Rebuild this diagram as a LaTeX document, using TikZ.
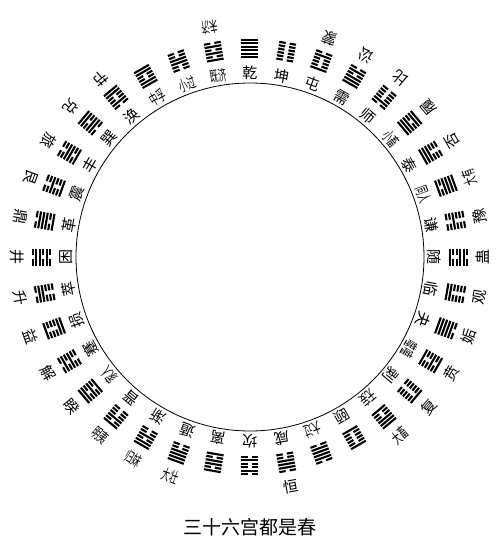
\documentclass[tikz,border=0pt]{standalone}
\usepackage{fontspec}
\usepackage{graphicx}
\usepackage{xstring}
\newfontfamily\cjk{Noto Sans CJK SC}

\newcommand{\pair}[1]{\scalebox{0.55}[1]{#1}}

\tikzset{
  guaname/.style={font=\cjk\fontsize{15}{15}\selectfont, inner sep=0pt, transform shape},
  yao/.style={line width=2.1pt},
  title/.style={font=\cjk\fontsize{19}{19}\selectfont, inner sep=0pt},
}

\begin{document}
\begin{tikzpicture}[x=1pt, y=1pt]
    \useasboundingbox[fill=white] (-250,-295) rectangle (250,257);
    \node[draw, circle, minimum size=348pt, inner sep=0pt, line width=0.8pt] (ring) at (0,0) {};
    % 36 palaces: angle / inner name / outer name / lines from the ring outward
    \foreach \a/\inn/\outn/\code [count=\k] in {
        90/乾//111111, 80/坤//000000, 70/屯/蒙/100010, 60/需/讼/111010,
        50/师/比/010000, 40/\pair{小畜}/履/111011, 30/泰/否/111000,
        20/\pair{同人}/\pair{大有}/101111, 10/谦/豫/001000, 0/随/蛊/100110,
        -10/临/观/110000, -20/夬/姤/111110, -30/\pair{噬嗑}/贲/100101,
        -40/剥/复/000001, -50/\pair{无妄}/\pair{大畜}/100111, -60/颐//100001,
        -70/\pair{大过}//011110, -80/咸/恒/001110, -90/坎//010010,
        -100/离//101101, -110/遁/\pair{大壮}/001111, -120/渐/\pair{归妹}/001011,
        -130/晋/\pair{明夷}/000101, -140/\pair{家人}/睽/101011, -150/蹇/解/001010,
        -160/损/益/110001, -170/萃/升/000110, -180/困/井/010110,
        170/革/鼎/101110, 160/震/艮/100100, 150/丰/旅/101100,
        140/巽/兑/011011, 130/涣/节/010011, 120/\pair{中孚}//110011,
        110/\pair{小过}//001100, 100/\pair{既济}/\pair{未济}/101010}{
        \begin{scope}[rotate=\a-90]
            \node[guaname] (in\k) at (0,184) {\inn};
            \node[guaname, rotate=180] (out\k) at (0,233) {\outn};
            \coordinate (gua\k) at (0,208.5);
            \foreach \i in {1,...,6}{
                \StrChar{\code}{\i}[\bit]
                \pgfmathsetmacro\yy{200+(\i-1)*3.4}
                \ifnum\bit=1
                    \draw[yao] (-8.5,\yy) -- (8.5,\yy);
                \else
                    \draw[yao] (-8.5,\yy) -- (-2,\yy) (2,\yy) -- (8.5,\yy);
                \fi
            }
        \end{scope}
    }
    \node[title] (caption) at (0,-270) {三十六宫都是春};
\end{tikzpicture}
\end{document}
